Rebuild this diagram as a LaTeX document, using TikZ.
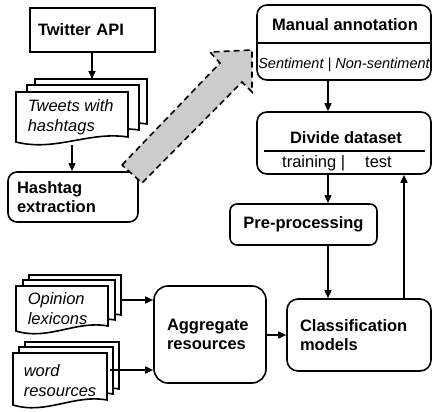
\documentclass[tikz,border=0pt]{standalone}
\usepackage{fontspec}
\setmainfont{Liberation Sans}
\usetikzlibrary{arrows.meta}

% one sheet of a document symbol: #1 left x, #2 top y, #3 width, #4 bottom y at the left
\newcommand\docpage[4]{%
  \filldraw[docline] (#1,#2) -- ++(#3,0) -- (#1+#3,#4-5)
    .. controls (#1+0.65*#3,#4-11) and (#1+0.35*#3,#4+10) .. (#1,#4) -- cycle;}

\begin{document}
\begin{tikzpicture}[x=1pt,y=-1pt,
  line width=1.6pt,
  basefont/.style={font=\fontsize{16.5}{19}\selectfont},
  title/.style={font=\fontsize{16.5}{19}\selectfont\bfseries},
  doctext/.style={font=\fontsize{16.5}{20}\selectfont\itshape,align=left,anchor=west,inner sep=0pt},
  procbox/.style={draw,rounded corners=9pt,inner ysep=0pt,
    font=\fontsize{16.5}{19}\selectfont\bfseries},
  docline/.style={draw,fill=white,line width=1.6pt},
  flow/.style={-{Triangle[length=8pt,width=7pt]}},
  bigarrow/.style={draw,fill=gray!40,dashed,dash pattern=on 6pt off 4pt,line width=1.6pt}]

\useasboundingbox (0,0) rectangle (432,412);

% --- collection branch ---
\node[procbox,rounded corners=0pt,minimum height=44pt,text width=109pt,inner xsep=8pt,
  align=left] (api) at (92.5,30) {Twitter API};

\docpage{35}{79}{112}{129}
\docpage{27}{85}{112}{135}
\docpage{16}{92}{112}{142}
\node[doctext] (tweets) at (27,117) {Tweets with\\hashtags};
\coordinate (twtop) at (92,79);
\coordinate (twbot) at (72,145);

\node[procbox,minimum height=50pt,text width=112pt,inner xsep=9pt,align=left]
  (hash) at (73,197) {Hashtag\\extraction};

\draw[flow] (api.south -| twtop) -- (twtop);
\draw[flow] (twbot) -- (twbot |- hash.north);

% block arrow towards annotation
\path[bigarrow] (122,165) -- (220,63) -- (210,52) -- (252,50) -- (252,92)
  -- (242,82) -- (142,183) -- cycle;

% --- annotation and modelling branch ---
\node[procbox,rounded corners=10pt,minimum width=174pt,minimum height=75pt] (ma) at (344,42.5) {};
\draw (ma.west |- 0,43) -- (ma.east |- 0,43);
\node[title] (matitle) at (345,25) {Manual annotation};
\node[font=\fontsize{14.5}{17}\selectfont\itshape] (masub) at (344,65) {Sentiment | Non-sentiment};

\node[procbox,rounded corners=10pt,minimum width=174pt,minimum height=62pt] (dd) at (344,143) {};
\draw (264,151) -- (425,151);
\node[title] (ddtitle) at (346,138) {Divide dataset};
\node[basefont] (ddsub) at (337,163) {training |\hspace{20pt}test};

\node[procbox,rounded corners=7pt,minimum width=147pt,minimum height=41pt]
  (pp) at (303.5,224.5) {Pre-processing};

\node[procbox,rounded corners=11pt,minimum height=72pt,text width=118pt,inner xsep=13pt,
  align=left] (cm) at (359,335) {Classification\\models};

% --- lexical resources ---
\docpage{29}{275}{92}{320}
\docpage{23}{280}{92}{325}
\docpage{16}{286}{92}{331}
\node[doctext] (op) at (27,309) {Opinion\\lexicons};
\coordinate (opout) at (121,300);

\docpage{25}{342}{94}{394}
\docpage{19}{347}{94}{399}
\docpage{13}{353}{94}{405}
\node[doctext] (wr) at (23,381) {word\\resources};
\coordinate (wrout) at (110,370);

\node[procbox,rounded corners=14pt,minimum height=97pt,text width=86pt,inner xsep=13pt,
  align=left] (ag) at (210,334.5) {Aggregate\\resources};

% --- connectors ---
\coordinate (col) at (328,0);
\coordinate (back) at (404,0);
\draw[flow] (col |- ma.south) -- (col |- dd.north);
\draw[flow] (col |- dd.south) -- (col |- pp.north);
\draw[flow] (col |- pp.south) -- (col |- cm.north);
\draw[flow] (back |- cm.north) -- (back |- dd.south);
\draw[flow] (opout) -- (opout -| ag.west);
\draw[flow] (wrout) -- (wrout -| ag.west);
\draw[flow] (ag.east |- cm.center) -- (cm.west);
\end{tikzpicture}
\end{document}
